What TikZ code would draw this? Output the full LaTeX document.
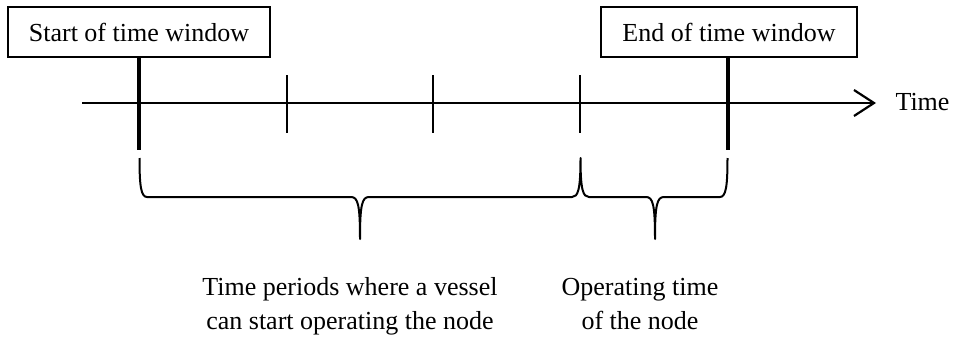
\documentclass[tikz,border=0pt]{standalone}
\usepackage{fontspec}
\setmainfont{Liberation Serif}
\usetikzlibrary{arrows.meta}
\begin{document}
\begin{tikzpicture}[x=1pt,y=-1pt,
  lbl/.style={font=\fontsize{26}{34}\selectfont},
  winbox/.style={draw,line width=2pt,lbl,inner xsep=21pt,inner ysep=0pt,minimum height=50pt},
  mark line/.style={line width=3.5pt},
  tickline/.style={line width=2pt},
  axisline/.style={line width=2.5pt,-{Straight Barb[length=20pt,width=26pt,line width=2.2pt]}},
  bracepath/.style={line width=2pt,line join=round}]
\useasboundingbox (0,0) rectangle (956,340);
% boxes
\node[winbox] (start) at (139,32) {Start of time window};
\node[winbox] (end) at (729,32) {End of time window};
% axis
\coordinate (a0) at (82,103);
\coordinate (a1) at (876,103);
\draw[axisline] (a0) -- (a1);
\node[lbl,anchor=west] (time) at (892,102) {Time};
% ticks
\foreach \x/\n in {287/t1,433/t2,580/t3}{
  \coordinate (\n top) at (\x,75);
  \coordinate (\n bot) at (\x,133);
  \draw[tickline] (\n top) -- (\n bot);
}
% thick window markers
\coordinate (sbot) at (139,150);
\coordinate (ebot) at (728,150);
\draw[mark line] (start.south) -- (sbot);
\draw[mark line] (end.south -| ebot) -- (ebot);
% braces
\coordinate (b0) at (139.5,158);
\coordinate (b1) at (360,239);
\coordinate (b2) at (580.5,158);
\coordinate (b3) at (655,239);
\coordinate (b4) at (727.5,158);
\draw[bracepath] (b0) .. controls (139.5,186) and (141,197) .. (147,197)
  -- (351,197) .. controls (358,197) and (360,205) .. (b1)
  .. controls (360,205) and (362,197) .. (369,197)
  -- (572,197) .. controls (578,197) and (580.5,190) .. (b2)
  .. controls (580.5,190) and (583,197) .. (589,197)
  -- (646,197) .. controls (653,197) and (655,205) .. (b3)
  .. controls (655,205) and (657,197) .. (664,197)
  -- (720,197) .. controls (726,197) and (727.5,186) .. (b4);
% labels
\node[lbl,align=center,inner sep=0pt] (lab1) at (350,306) {Time periods where a vessel\\can start operating the node};
\node[lbl,align=center,inner sep=0pt] (lab2) at (640,304) {Operating time\\of the node};
\end{tikzpicture}
\end{document}
